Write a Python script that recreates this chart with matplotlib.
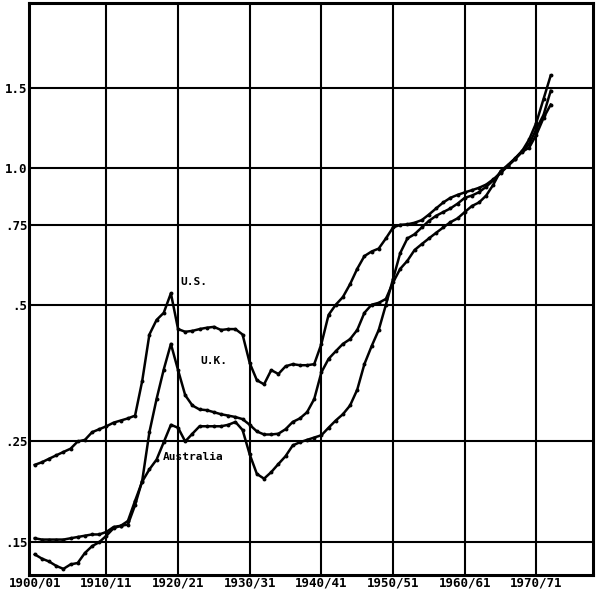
import matplotlib
matplotlib.use("Agg")
import matplotlib.pyplot as plt
from matplotlib.ticker import NullLocator, FixedLocator, FixedFormatter

years = list(range(1900, 1973))

us = [0.222, 0.225, 0.229, 0.233, 0.237, 0.241, 0.250, 0.252, 0.262, 0.266,
      0.270, 0.275, 0.278, 0.281, 0.285, 0.340, 0.430, 0.463, 0.480, 0.530,
      0.442, 0.436, 0.438, 0.442, 0.445, 0.447, 0.440, 0.442, 0.442, 0.430,
      0.372, 0.341, 0.334, 0.359, 0.352, 0.366, 0.370, 0.368, 0.368, 0.370,
      0.410, 0.475, 0.500, 0.520, 0.555, 0.600, 0.640, 0.655, 0.665, 0.700,
      0.740, 0.750, 0.752, 0.758, 0.768, 0.790, 0.815, 0.840, 0.860, 0.873,
      0.884, 0.894, 0.905, 0.920, 0.945, 0.975, 1.010, 1.045, 1.085, 1.110,
      1.185, 1.290, 1.380]

uk = [0.153, 0.152, 0.152, 0.152, 0.152, 0.153, 0.154, 0.155, 0.156, 0.156,
      0.158, 0.162, 0.163, 0.164, 0.181, 0.205, 0.262, 0.310, 0.360, 0.410,
      0.359, 0.316, 0.300, 0.294, 0.293, 0.290, 0.287, 0.285, 0.283, 0.280,
      0.272, 0.263, 0.259, 0.259, 0.260, 0.266, 0.276, 0.281, 0.290, 0.310,
      0.355, 0.380, 0.395, 0.410, 0.420, 0.440, 0.480, 0.500, 0.505, 0.515,
      0.560, 0.600, 0.625, 0.660, 0.680, 0.700, 0.720, 0.740, 0.760, 0.775,
      0.800, 0.825, 0.840, 0.870, 0.920, 0.985, 1.015, 1.050, 1.090, 1.157,
      1.260, 1.420, 1.600]

australia = [0.141, 0.138, 0.136, 0.133, 0.131, 0.134, 0.135, 0.142, 0.147, 0.150,
             0.155, 0.161, 0.163, 0.167, 0.185, 0.204, 0.217, 0.228, 0.249, 0.272,
             0.268, 0.250, 0.260, 0.270, 0.270, 0.270, 0.270, 0.272, 0.276, 0.265,
             0.234, 0.212, 0.207, 0.214, 0.223, 0.232, 0.245, 0.249, 0.252, 0.255,
             0.258, 0.268, 0.278, 0.287, 0.300, 0.325, 0.370, 0.405, 0.440, 0.500,
             0.570, 0.650, 0.700, 0.715, 0.740, 0.765, 0.785, 0.800, 0.815, 0.835,
             0.860, 0.870, 0.885, 0.910, 0.940, 0.980, 1.012, 1.048, 1.090, 1.130,
             1.220, 1.310, 1.480]

y_ticks = [0.15, 0.25, 0.5, 0.75, 1.0, 1.5]
y_tick_labels = ['.15', '.25', '.5', '.75', '1.0', '1.5']
x_ticks = [1900, 1910, 1920, 1930, 1940, 1950, 1960, 1970]
x_tick_labels = ['1900/01', '1910/11', '1920/21', '1930/31',
                 '1940/41', '1950/51', '1960/61', '1970/71']

series_labels = [("U.S.", 1920.3, 0.56), ("U.K.", 1923.1, 0.375), ("Australia", 1917.9, 0.231)]

mono = ['DejaVu Sans Mono']

fig = plt.figure(figsize=(6, 5.91), dpi=100)
ax = fig.add_axes([29/600, 16/591, (593-29)/600, (575-3)/591])
ax.set_yscale('log')
ax.set_ylim(0.127, 2.31)
ax.set_xlim(1899.2, 1977.9)

ax.yaxis.set_major_locator(FixedLocator(y_ticks))
ax.yaxis.set_major_formatter(FixedFormatter(y_tick_labels))
ax.yaxis.set_minor_locator(NullLocator())
ax.set_xticks(x_ticks)
ax.set_xticklabels(x_tick_labels)

# grid lines (no separate line at the left axis edge)
for xv in x_ticks[1:]:
    ax.axvline(xv, color='black', linewidth=1.5, zorder=1)
for yv in y_ticks:
    ax.axhline(yv, color='black', linewidth=1.5, zorder=1)

for s in ax.spines.values():
    s.set_linewidth(2.2)
    s.set_color('black')

ax.tick_params(axis='both', length=0, labelsize=9, pad=1)
for lab in ax.get_xticklabels() + ax.get_yticklabels():
    lab.set_family(mono)
    lab.set_fontweight('bold')

for vals in (us, uk, australia):
    ax.plot(years, vals, color='black', linewidth=1.8, marker='o',
            markersize=2.8, markerfacecolor='black', markeredgewidth=0, zorder=3)

for txt, x, y in series_labels:
    ax.text(x, y, txt, family=mono, fontsize=8, fontweight='bold',
            ha='left', va='center', color='black', zorder=4)

fig.savefig("out.png", dpi=100)
